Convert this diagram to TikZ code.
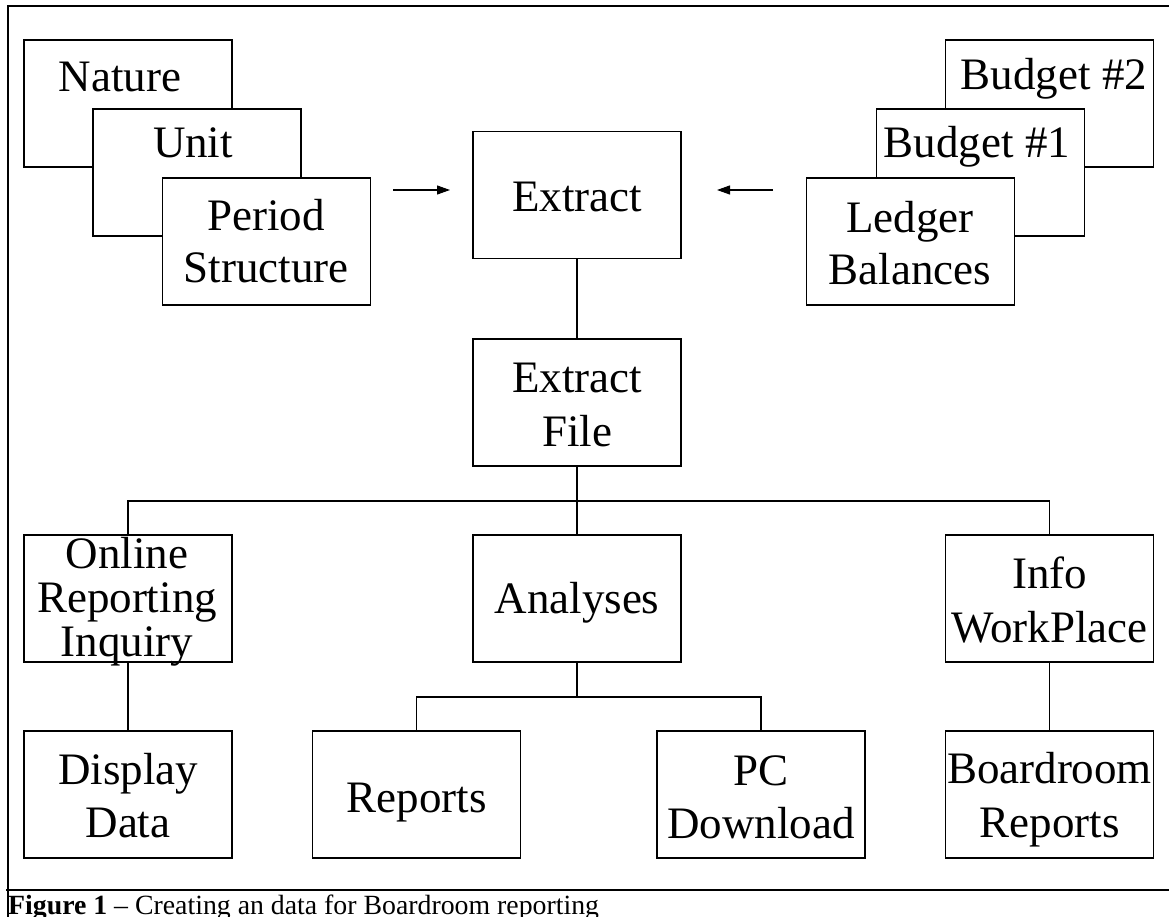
\documentclass[tikz,border=0pt]{standalone}
\usepackage{fontspec}
\setmainfont{Liberation Serif}
\usetikzlibrary{arrows.meta}
\newcommand{\boxtext}[2]{\fontsize{45}{#1}\selectfont\begin{tabular}[t]{@{}c@{}}#2\end{tabular}}
\tikzset{
  box/.style={draw=black, line width=1.1pt, fill=white, minimum width=208pt, minimum height=127pt, inner sep=0pt},
  txt/.style={inner sep=0pt, anchor=base, font=\fontsize{45}{52}\selectfont},
  conn/.style={draw=black, line width=1.1pt},
  arr/.style={draw=black, line width=1.1pt, -{Triangle[length=13pt,width=9pt]}},
  frame/.style={draw=black, line width=2.2pt}
}
\begin{document}
\begin{tikzpicture}[x=1pt,y=-1pt]
\useasboundingbox (0,0) rectangle (1169,917);
% outer frame
\draw[frame] (1175,6) -- (8,6) -- (8,920);
\draw[frame] (6,890) -- (1175,890);
% top-left stack
\node[box] (nat) at (128,103.5) {};
\node[txt] (natT) at (120,92) {Nature};
\node[box] (unit) at (197,172.5) {};
\node[txt] (unitT) at (193,158) {Unit};
\node[box] (per) at (266.5,241.5) {};
\node[txt] (perT) at (266,231) {\boxtext{52}{Period\\Structure}};
% top-right stack
\node[box] (bud2) at (1049.5,103.5) {};
\node[txt] (bud2T) at (1054,90) {Budget \#2};
\node[box] (bud1) at (980.5,172.5) {};
\node[txt] (bud1T) at (977,158) {Budget \#1};
\node[box] (led) at (910.5,241.5) {};
\node[txt] (ledT) at (910,233) {\boxtext{52}{Ledger\\Balances}};
% centre column
\node[box] (ext) at (577,195) {};
\node[txt] (extT) at (577,212) {Extract};
\node[box] (exf) at (577,402.5) {};
\node[txt] (exfT) at (577,392) {\boxtext{54}{Extract\\File}};
% middle row
\node[box] (onl) at (128,598.5) {};
\node[txt] (onlT) at (127,568) {\boxtext{44}{Online\\Reporting\\Inquiry}};
\node[box] (ana) at (577,598.5) {};
\node[txt] (anaT) at (577,613) {Analyses};
\node[box] (info) at (1049.5,598.5) {};
\node[txt] (infoT) at (1049.5,588) {\boxtext{54}{Info\\WorkPlace}};
% bottom row
\node[box] (disp) at (128,794.5) {};
\node[txt] (dispT) at (128,784) {\boxtext{53}{Display\\Data}};
\node[box] (rep) at (416.5,794.5) {};
\node[txt] (repT) at (416.5,812) {Reports};
\node[box] (pcd) at (761,794.5) {};
\node[txt] (pcdT) at (761,785) {\boxtext{53}{PC\\Download}};
\node[box] (board) at (1049.5,794.5) {};
\node[txt] (boardT) at (1049.5,783) {\boxtext{54}{Boardroom\\Reports}};
% arrows into Extract
\coordinate (la1) at (393,190);
\coordinate (la2) at (450,190);
\coordinate (ra1) at (773,190);
\coordinate (ra2) at (717,190);
\draw[arr] (la1) -- (la2);
\draw[arr] (ra1) -- (ra2);
% connectors
\draw[conn] (ext.south) -- (exf.north);
\coordinate (bus1) at (577,501);
\draw[conn] (exf.south) -- (ana.north);
\draw[conn] (onl.north) |- (bus1) -| (info.north);
\draw[conn] (onl.south) -- (disp.north);
\draw[conn] (info.south) -- (board.north);
\coordinate (bus2) at (577,697);
\draw[conn] (ana.south) -- (bus2);
\draw[conn] (rep.north) |- (bus2) -| (pcd.north);
% caption
\node[inner sep=0pt, anchor=base west, font=\fontsize{27.8}{30}\selectfont] (cap) at (8,914) {\textbf{Figure 1} -- Creating an data for Boardroom reporting};
\end{tikzpicture}
\end{document}
